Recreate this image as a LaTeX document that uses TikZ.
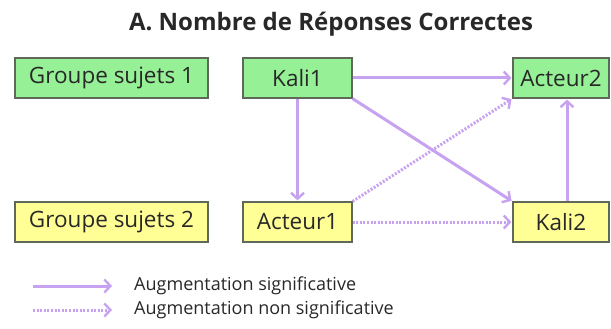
\documentclass[tikz,border=0pt]{standalone}
\usepackage{fontspec}
\setmainfont{Open Sans}
\usetikzlibrary{arrows.meta}
\definecolor{lilas}{RGB}{198,162,240}
\definecolor{vertclair}{RGB}{150,240,150}
\definecolor{jauneclair}{RGB}{255,255,150}
\definecolor{bord}{RGB}{95,105,90}
\definecolor{texte}{RGB}{40,40,40}
\tikzstyle{gbox} = [rectangle, draw=bord, fill=vertclair, line width=1.2pt, text=texte,
    minimum height=40pt, inner sep=0pt, font=\fontsize{22.5}{26}\selectfont]
\tikzstyle{ybox} = [gbox, fill=jauneclair]
\tikzstyle{sig} = [-{Straight Barb[length=6pt,width=13pt,line width=2.4pt]},
    draw=lilas, line width=3pt, shorten >=1pt]
\tikzstyle{nonsig} = [sig, dash pattern=on 2pt off 1.6pt]
\tikzstyle{legende} = [anchor=west, inner sep=0pt, text=texte, font=\fontsize{18}{20}\selectfont]
\begin{document}
\begin{tikzpicture}[x=1pt,y=-1pt]
  \useasboundingbox (0,0) rectangle (611,329);

  \node[text=texte] (titre) at (331,24) {\bfseries\fontsize{24}{28}\selectfont A. Nombre de Réponses Correctes};

  \node[gbox,minimum width=193pt] (G1) at (111.5,78)  {Groupe sujets 1};
  \node[gbox,minimum width=109pt] (K1) at (297.5,78)  {Kali1};
  \node[gbox,minimum width=96pt]  (A2) at (561,78)    {Acteur2};
  \node[ybox,minimum width=193pt] (G2) at (111.5,222) {Groupe sujets 2};
  \node[ybox,minimum width=109pt] (A1) at (297.5,222) {Acteur1};
  \node[ybox,minimum width=96pt]  (K2) at (561,222)   {Kali2};

  \path (K1) edge[sig] (A2)
             edge[sig] (A1)
        (K1.south east) edge[sig] (K2.north west)
        ([xshift=6pt]K2.north) edge[sig] ([xshift=6pt]A2.south)
        (A1.north east) edge[nonsig] (A2.south west)
        (A1) edge[nonsig] (K2);

  % legende
  \coordinate (s1) at (33,286);
  \coordinate (s2) at (113,286);
  \coordinate (n1) at (33,310);
  \coordinate (n2) at (113,310);
  \path (s1) edge[sig] (s2)
        (n1) edge[nonsig] (n2);
  \node[legende] (ls) at (134,286) {Augmentation significative};
  \node[legende] (ln) at (134,310) {Augmentation non significative};
\end{tikzpicture}
\end{document}
